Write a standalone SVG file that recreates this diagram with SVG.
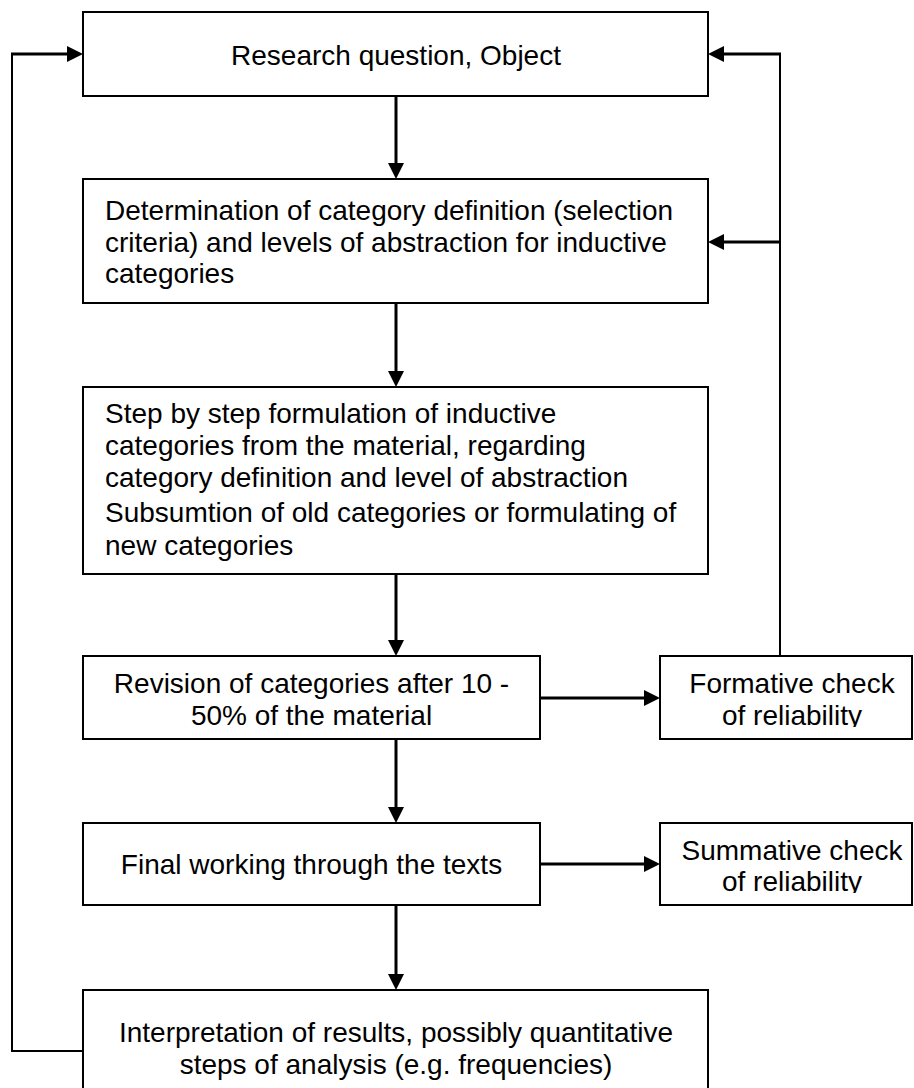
<svg xmlns="http://www.w3.org/2000/svg" width="914" height="1088" viewBox="0 0 914 1088">
  <style>
    .box { fill: #fff; stroke: #000; stroke-width: 2; }
    text { font-family: "Liberation Sans", Arial, sans-serif; font-size: 28px; fill: #000; }
    .c { text-anchor: middle; }
    .wire { fill: none; stroke: #000; stroke-width: 2; }
    .arr { fill: none; stroke: #000; stroke-width: 3; marker-end: url(#ah); }
  </style>
  <defs>
    <marker id="ah" markerUnits="userSpaceOnUse" viewBox="0 0 16 16" markerWidth="16" markerHeight="16" refX="6" refY="8" orient="auto">
      <path d="M0,0 L16,8 L0,16 Z" fill="#000"/>
    </marker>
    <clipPath id="clipFormative"><rect x="660" y="656" width="254" height="71"/></clipPath>
    <clipPath id="clipSummative"><rect x="660" y="823" width="254" height="70"/></clipPath>
  </defs>

  <rect width="914" height="1088" fill="#fff"/>

  <!-- connectors -->
  <g id="connectors">
    <line class="arr" x1="396" y1="97" x2="396" y2="169"/>
    <line class="arr" x1="396" y1="304" x2="396" y2="377"/>
    <line class="arr" x1="396" y1="575" x2="396" y2="646"/>
    <line class="arr" x1="396" y1="740" x2="396" y2="813"/>
    <line class="arr" x1="396" y1="906" x2="396" y2="980"/>
    <line class="arr" x1="540" y1="698" x2="650" y2="698"/>
    <line class="arr" x1="540" y1="864" x2="650" y2="864"/>
    <!-- feedback from the formative reliability check -->
    <path class="wire" d="M780,656 V53"/>
    <line class="arr" x1="781" y1="54" x2="718" y2="54"/>
    <line class="arr" x1="781" y1="242" x2="718" y2="242"/>
    <!-- feedback from the interpretation step -->
    <path class="wire" d="M83,1051 H12 V53"/>
    <line class="arr" x1="11" y1="54" x2="73" y2="54"/>
  </g>

  <g id="research-question">
    <rect class="box" x="83" y="12" width="625" height="84"/>
    <text class="c" x="396" y="65">Research question, Object</text>
  </g>

  <g id="category-definition">
    <rect class="box" x="83" y="179" width="625" height="124"/>
    <text x="105" y="220">Determination of category definition (selection</text>
    <text x="105" y="252">criteria) and levels of abstraction for inductive</text>
    <text x="105" y="283">categories</text>
  </g>

  <g id="formulation">
    <rect class="box" x="83" y="387" width="625" height="187"/>
    <text x="105" y="423">Step by step formulation of inductive</text>
    <text x="105" y="455">categories from the material, regarding</text>
    <text x="105" y="487">category definition and level of abstraction</text>
    <text x="105" y="522">Subsumtion of old categories or formulating of</text>
    <text x="105" y="555">new categories</text>
  </g>

  <g id="revision">
    <rect class="box" x="83" y="656" width="457" height="83"/>
    <text class="c" x="311.5" y="693">Revision of categories after 10 -</text>
    <text class="c" x="311.5" y="725">50% of the material</text>
  </g>

  <g id="formative-check">
    <rect class="box" x="660" y="656" width="252" height="83"/>
    <g clip-path="url(#clipFormative)">
      <text class="c" x="792" y="693">Formative check</text>
      <text class="c" x="792" y="725">of reliability</text>
    </g>
  </g>

  <g id="final-working">
    <rect class="box" x="83" y="823" width="457" height="82"/>
    <text class="c" x="311.5" y="874">Final working through the texts</text>
  </g>

  <g id="summative-check">
    <rect class="box" x="660" y="823" width="252" height="82"/>
    <g clip-path="url(#clipSummative)">
      <text class="c" x="792" y="860">Summative check</text>
      <text class="c" x="792" y="891">of reliability</text>
    </g>
  </g>

  <g id="interpretation">
    <rect class="box" x="83" y="990" width="625" height="120"/>
    <text class="c" x="396" y="1042">Interpretation of results, possibly quantitative</text>
    <text class="c" x="396" y="1074">steps of analysis (e.g. frequencies)</text>
  </g>
</svg>
